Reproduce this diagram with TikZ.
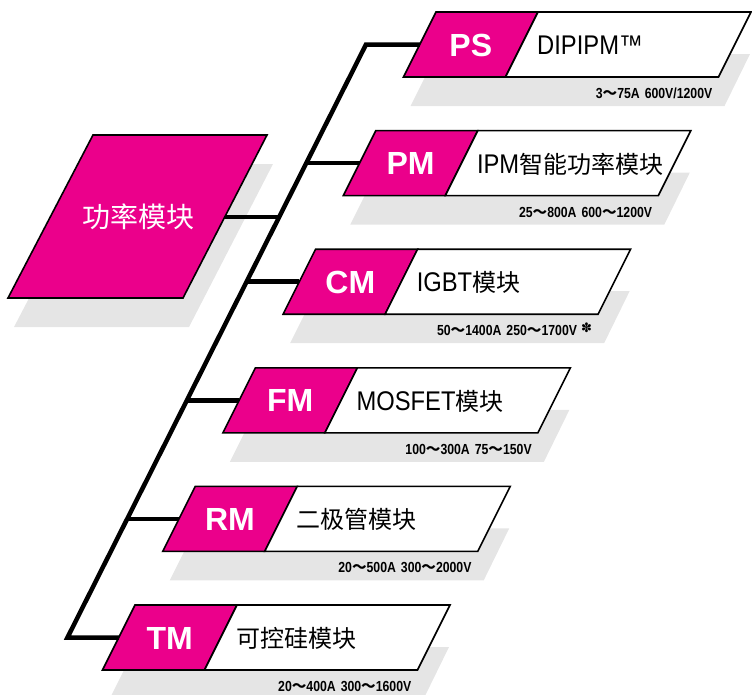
\documentclass[tikz,border=0pt]{standalone}
\usepackage{fontspec}
\setmainfont{Liberation Sans}
\newfontfamily\cjk{Noto Sans CJK SC}
\newfontfamily\namefont{Liberation Sans}[FakeStretch=0.88]
\newfontfamily\specfont{Liberation Sans}[FakeStretch=0.84]
\newfontfamily\symfont{DejaVu Sans}
\newcommand\rng{{\cjk ～}}
\newcommand\zh[1]{{\cjk\fontsize{24}{24}\selectfont #1}}
\definecolor{modpink}{RGB}{235,0,139}
\definecolor{shadowgray}{RGB}{229,229,229}

\tikzstyle{codebox}=[draw,line width=1.6pt,fill=modpink]
\tikzstyle{namebox}=[draw,line width=1.6pt,fill=white]
\tikzstyle{shade}=[fill=shadowgray]
\tikzstyle{spine}=[draw,line width=4.5pt,-]
\tikzstyle{code}=[text=white,inner sep=0pt,font=\fontsize{32}{32}\selectfont\bfseries]
\tikzstyle{modname}=[inner sep=0pt,font=\namefont\fontsize{27}{27}\selectfont]
\tikzstyle{spec}=[inner sep=0pt,font=\specfont\bfseries\fontsize{14.6}{14.6}\selectfont]

\begin{document}
\begin{tikzpicture}[x=1pt,y=-1pt]
	\useasboundingbox (0,0) rectangle (752,694);
	% the big box on the left
	\fill[shade] (99,164) -- (273,164) -- (189,327) -- (14,327) -- cycle;
	\coordinate (big-out) at (215,217);
	\coordinate (sp-big) at (279.2,217);
	\path[spine] (big-out) -- (sp-big);
	\path[codebox] (93,135) -- (267,135) -- (183,298) -- (8,298) -- cycle;
	\node[text=white,font=\cjk\fontsize{28}{28}\selectfont,anchor=base] (main) at (138,227) {功率模块};
	% the six module boxes
	\foreach \i/\code/\name/\spec in {
		0/PS/{DIPIPM™}/{3\rng75A\hspace{5pt}600V/1200V},
		1/PM/{IPM\zh{智能功率模块}}/{25\rng800A\hspace{5pt}600\rng1200V},
		2/CM/{IGBT\zh{模块}}/{50\rng1400A\hspace{5pt}250\rng1700V\hspace{4pt}\raisebox{3pt}{\symfont\fontsize{13}{13}\selectfont ✽}},
		3/FM/{MOSFET\zh{模块}}/{100\rng300A\hspace{5pt}75\rng150V},
		4/RM/{\zh{二极管模块}}/{20\rng500A\hspace{5pt}300\rng2000V},
		5/TM/{\zh{可控硅模块}}/{20\rng400A\hspace{5pt}300\rng1600V}}
	{
		\pgfmathsetmacro\tx{436-60.2*\i}
		\pgfmathsetmacro\ty{12+118.6*\i}
		\pgfmathsetmacro\sx{366-(\ty-12)*0.5034}
		\coordinate (in-\code) at ({\tx-16.25},{\ty+32.5});
		\coordinate (sp-\code) at (\sx,{\ty+32.5});
		\fill[shade] ({\tx+0.5},{\ty+42}) -- ({\tx+314},{\ty+42}) -- ({\tx+288.5},{\ty+94}) -- ({\tx-25.5},{\ty+94}) -- cycle;
		\ifnum\i>0 \ifnum\i<5 \path[spine] (sp-\code) -- (in-\code); \fi\fi
		\path[codebox] (\tx,\ty) -- ({\tx+102},\ty) -- ({\tx+69.5},{\ty+65}) -- ({\tx-32.5},{\ty+65}) -- cycle;
		\path[namebox] ({\tx+102},\ty) -- ({\tx+315},\ty) -- ({\tx+282.5},{\ty+65}) -- ({\tx+69.5},{\ty+65}) -- cycle;
		\node[code,anchor=base] (code-\code) at ({\tx+34.75},{\ty+44}) {\code};
		\node[modname,anchor=base west] (name-\code) at ({\tx+101},{\ty+42.5}) {\name};
		\node[spec,anchor=base east] (spec-\code) at ({\tx+276.5},{\ty+86.5}) {\spec};
	}
	% the spine
	\path[spine] (in-PS) -- (sp-PS) -- (sp-TM) -- (in-TM);
\end{tikzpicture}
\end{document}
